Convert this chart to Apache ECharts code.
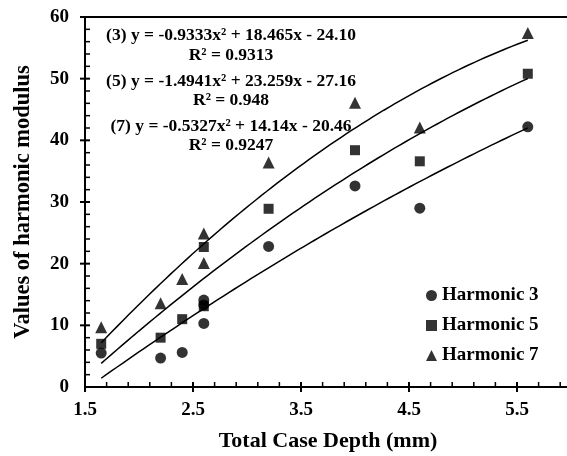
<!DOCTYPE html>
<html>
<head>
<meta charset="utf-8">
<script src="https://cdn.jsdelivr.net/npm/echarts@6/dist/echarts.min.js"></script>
<style>html,body{margin:0;padding:0;background:#fff;}#c{width:567px;height:456px;}</style>
</head>
<body>
<div id="c"></div>
<script>
// ---- data ----
const seriesNames = ['Harmonic 3', 'Harmonic 5', 'Harmonic 7'];
const depthH3 = [1.65, 2.2, 2.4, 2.6, 2.6, 2.6, 3.2, 4.0, 4.6, 5.6];
const valuesH3 = [5.5, 4.7, 5.6, 10.3, 13.3, 14.1, 22.8, 32.6, 29.0, 42.2];
const depthH5 = [1.65, 2.2, 2.4, 2.6, 2.6, 3.2, 4.0, 4.6, 5.6];
const valuesH5 = [7.0, 8.0, 11.0, 13.1, 22.7, 28.9, 38.4, 36.6, 50.8];
const depthH7 = [1.65, 2.2, 2.4, 2.6, 2.6, 3.2, 4.0, 4.6, 5.6];
const valuesH7 = [9.7, 13.6, 17.5, 20.1, 24.9, 36.4, 46.1, 42.1, 57.4];
// trendline coefficients as printed on the chart: [a, b, c] for y = a x^2 + b x + c
const trendA = [-0.9333, 18.465, -24.10];
const trendB = [-1.4941, 23.259, -27.16];
const trendC = [-0.5327, 14.14, -20.46];
const trendRange = [1.65, 5.6];
const eqLabels = ['(3) y = -0.9333x\u00B2 + 18.465x - 24.10', '(5) y = -1.4941x\u00B2 + 23.259x - 27.16', '(7) y = -0.5327x\u00B2 + 14.14x - 20.46'];
const r2Labels = ['R\u00B2 = 0.9313', 'R\u00B2 = 0.948', 'R\u00B2 = 0.9247'];
const xMin = 1.5, xMax = 6, xStep = 1, xMinorSteps = 5;
const yMin = 0, yMax = 60, yStep = 10, yMinorSteps = 5;

// ---- build ----
const zip = (xs, ys) => xs.map((x, i) => [x, ys[i]]);
function trend(coef) {
  const pts = [];
  const n = 80;
  for (let i = 0; i <= n; i++) {
    const x = trendRange[0] + (trendRange[1] - trendRange[0]) * i / n;
    pts.push([x, coef[0] * x * x + coef[1] * x + coef[2]]);
  }
  return pts;
}
// tick positions for the axis decorations (value, value, isMajor, axis)
const tickData = [];
const xMinor = xStep / xMinorSteps;
for (let i = 0; xMin + i * xMinor < xMax - 1e-9; i++) {
  tickData.push([+(xMin + i * xMinor).toFixed(4), yMin, i % xMinorSteps === 0 ? 1 : 0, 0]);
}
const yMinor = yStep / yMinorSteps;
for (let j = 1; yMin + j * yMinor <= yMax + 1e-9; j++) {
  tickData.push([xMin, +(yMin + j * yMinor).toFixed(4), j % yMinorSteps === 0 ? 1 : 0, 1]);
}

const FONT = '"Liberation Serif", "Times New Roman", serif';
const chart = echarts.init(document.getElementById('c'), null, {renderer: 'canvas'});
const symbols = ['circle', 'rect', 'triangle'];
const sizes = [11, 10, 12];
const scatterData = [zip(depthH3, valuesH3), zip(depthH5, valuesH5), zip(depthH7, valuesH7)];

const series = [];
[trendA, trendB, trendC].forEach((c, i) => {
  series.push({type: 'line', name: 'trend' + i, data: trend(c), showSymbol: false, symbol: 'none',
    lineStyle: {color: '#000', width: 1.5}, silent: true, z: 2});
});
seriesNames.forEach((nm, i) => {
  series.push({type: 'scatter', name: nm, data: scatterData[i], symbol: symbols[i], symbolSize: sizes[i],
    itemStyle: {color: '#000'}, z: 3});
});
// top frame line
series.push({type: 'line', name: 'frame', data: [[xMin, yMax], [xMax, yMax]], showSymbol: false, symbol: 'none',
  clip: false, silent: true, lineStyle: {color: '#000', width: 2}, z: 4});
// axis ticks: majors cross the axis, minors point inward
series.push({
  type: 'custom', name: 'ticks', data: tickData, clip: false, silent: true, z: 4,
  encode: {x: 0, y: 1},
  renderItem: function (params, api) {
    const p = api.coord([api.value(0), api.value(1)]);
    const major = api.value(2) === 1;
    const onX = api.value(3) === 0;
    const shape = onX
      ? {x1: p[0], y1: p[1] - 5, x2: p[0], y2: p[1] + (major ? 5 : 0)}
      : {x1: p[0] - (major ? 5 : 0), y1: p[1], x2: p[0] + 5, y2: p[1]};
    return {type: 'line', shape: shape, style: {stroke: '#000', lineWidth: major ? 2 : 1.5}};
  }
});

const graphic = [];
eqLabels.forEach((t, i) => {
  graphic.push({type: 'text', z: 5, style: {text: t, x: 231, y: [35, 81, 126][i], align: 'center', verticalAlign: 'middle',
    font: 'bold 17.5px ' + FONT, fill: '#000'}});
  graphic.push({type: 'text', z: 5, style: {text: r2Labels[i], x: 231, y: [55, 100, 145][i], align: 'center', verticalAlign: 'middle',
    font: 'bold 17.5px ' + FONT, fill: '#000'}});
});

chart.setOption({
  animation: false,
  backgroundColor: '#fff',
  grid: {left: 85, top: 17, width: 486, height: 370, outerBoundsMode: 'none'},
  legend: {
    data: seriesNames, orient: 'vertical', left: 421, top: 281, itemWidth: 11, itemHeight: 11, itemGap: 11,
    textStyle: {fontFamily: FONT, fontWeight: 'bold', fontSize: 19, color: '#000', lineHeight: 18}
  },
  xAxis: {type: 'value', min: xMin, max: xMax, interval: xStep,
      axisLine: {show: true, onZero: false, lineStyle: {color: '#000', width: 2}},
      axisTick: {show: false}, minorTick: {show: false},
      splitLine: {show: false},
      axisLabel: {margin: 14, showMaxLabel: false, fontFamily: FONT, fontWeight: 'bold', fontSize: 19, color: '#000'},
      name: 'Total Case Depth (mm)', nameLocation: 'middle', nameGap: 43,
      nameTextStyle: {fontFamily: FONT, fontWeight: 'bold', fontSize: 22, color: '#000'}},
  yAxis: {type: 'value', min: yMin, max: yMax, interval: yStep,
      axisLine: {show: true, onZero: false, lineStyle: {color: '#000', width: 2}},
      axisTick: {show: false}, minorTick: {show: false},
      splitLine: {show: false},
      axisLabel: {margin: 16, fontFamily: FONT, fontWeight: 'bold', fontSize: 19, color: '#000'},
      name: 'Values of harmonic modulus', nameLocation: 'middle', nameGap: 50,
      nameTextStyle: {fontFamily: FONT, fontWeight: 'bold', fontSize: 22.5, color: '#000'}},
  series: series,
  graphic: graphic
});
</script>
</body>
</html>
